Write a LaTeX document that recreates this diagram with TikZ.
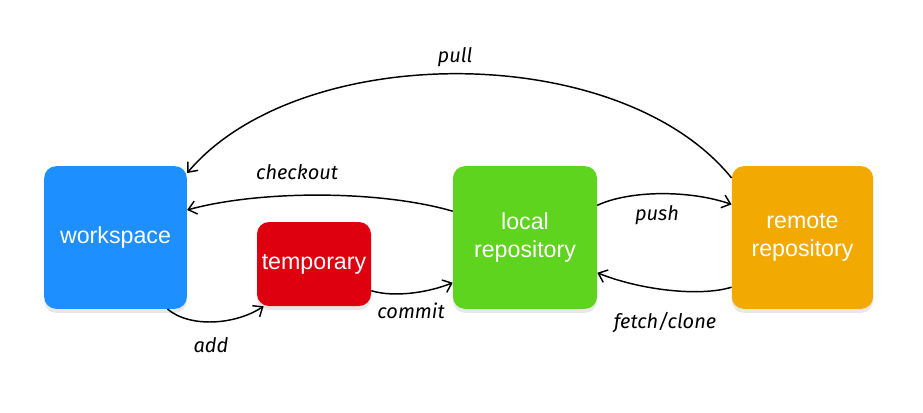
\documentclass[tikz,border=0pt]{standalone}
\usepackage{fontspec}
\setmainfont{Liberation Sans}
\newfontfamily\handfont{Fira Sans}
\usepackage{xcolor}
\usepackage{tikz}
\usetikzlibrary{
	arrows.meta,    % Per le punte di freccia aperte
	shadows         % Per l'ombra sotto i riquadri
}
\definecolor{wsblue}{RGB}{30,143,255}
\definecolor{tmpred}{RGB}{222,0,14}
\definecolor{locgreen}{RGB}{94,212,30}
\definecolor{remorange}{RGB}{242,170,2}

\begin{document}
\begin{tikzpicture}[x=0.75pt, y=-0.75pt,
		>={Straight Barb[length=6pt,width=10pt]},
		box/.style={rounded corners=9pt, text=white, align=center, inner sep=0pt,
			font=\fontsize{17.4}{21}\selectfont,
			drop shadow={shadow xshift=0pt, shadow yshift=-3pt, opacity=0.18}},
		arr/.style={->, line width=1.1pt},
		lbl/.style={font=\handfont\itshape\fontsize{15}{18}\selectfont}]
		% Area del disegno (in pixel)
		\useasboundingbox (0,0) rectangle (923,412);
		
		% --- Riquadri ---
		\node[box, fill=wsblue, minimum width=107pt, minimum height=107pt] (workspace) at (115.5,237.5) {workspace};
		\node[box, fill=tmpred, minimum width=85.5pt, minimum height=63pt] (temporary) at (314,264) {temporary};
		\node[box, fill=locgreen, minimum width=108pt, minimum height=107pt] (local) at (525,237.5) {local\\repository};
		\node[box, fill=remorange, minimum width=106pt, minimum height=107pt] (remote) at (802.5,237.5) {remote\\repository};
		
		% --- Frecce ---
		\draw[arr] (remote.140) .. controls (620,40) and (300,40) .. (workspace.42);
		\draw[arr] (local.160) .. controls (380,190) and (260,190) .. (workspace.21);
		\draw[arr] (workspace.-54) .. controls (190,328) and (235,325) .. (temporary.220);
		\draw[arr] (temporary.-25) .. controls (395,298) and (430,292) .. (local.212);
		\draw[arr] (local.24) .. controls (630,190) and (690,190) .. (remote.155);
		\draw[arr] (remote.215) .. controls (700,297) and (640,290) .. (local.-26);
		
		% --- Etichette ---
		\node[lbl] (lpull) at (455,57) {pull};
		\node[lbl] (lcheckout) at (297,172) {checkout};
		\node[lbl] (ladd) at (211,345) {add};
		\node[lbl] (lcommit) at (411,311) {commit};
		\node[lbl] (lpush) at (657,215) {push};
		\node[lbl] (lfetch) at (665,323) {fetch/clone};
	\end{tikzpicture}
\end{document}
